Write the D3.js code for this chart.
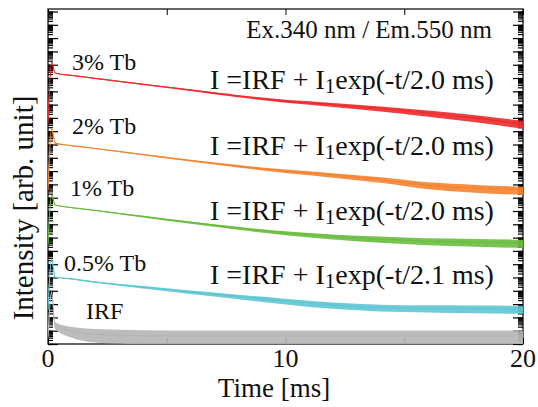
<!DOCTYPE html>
<html>
<head>
<meta charset="utf-8">
<script src="https://cdn.jsdelivr.net/npm/d3@7"></script>
<style>
  body { margin: 0; background: #fff; }
  text { font-family: "Liberation Serif", "DejaVu Serif", serif; fill: #111; }
</style>
</head>
<body>
<svg id="main_svg" width="538" height="407"></svg>
<script>
// time points [ms]
const times = [0, 0.15, 0.3, 1, 2, 4, 6, 8, 10, 12, 14, 16, 18, 20]

// log10 intensity (curves are offset for display)
const tb3 = [16.6, 21.2, 20.38, 20.2, 19.97, 19.53, 19.1, 18.65, 18.27, 18.01, 17.71, 17.37, 16.99, 16.54]
const tb2 = [11.6, 16.2, 15.11, 14.92, 14.7, 14.25, 13.8, 13.38, 13.01, 12.71, 12.37, 11.95, 11.73, 11.58]
const tb1 = [7.5, 11.2, 10.45, 10.26, 10.04, 9.59, 9.14, 8.72, 8.35, 8.08, 7.89, 7.74, 7.67, 7.59]
const tb05 = [2.6, 6.4, 5.04, 4.89, 4.66, 4.29, 3.91, 3.57, 3.23, 2.93, 2.75, 2.69, 2.66, 2.63]
const irf = [0.5, 3.9, 1.43, 0.95, 0.72, 0.62, 0.6, 0.6, 0.6, 0.6, 0.6, 0.6, 0.6, 0.6]

// half width of the noise band, in decades
const tb3Noise = [0.3, 0.03, 0.03, 0.03, 0.03, 0.04, 0.06, 0.08, 0.11, 0.15, 0.19, 0.24, 0.27, 0.3]
const tb2Noise = [0.3, 0.03, 0.03, 0.03, 0.03, 0.04, 0.06, 0.09, 0.13, 0.17, 0.21, 0.26, 0.29, 0.31]
const tb1Noise = [0.3, 0.03, 0.03, 0.03, 0.04, 0.06, 0.08, 0.11, 0.15, 0.19, 0.23, 0.26, 0.29, 0.31]
const tb05Noise = [0.3, 0.04, 0.04, 0.04, 0.06, 0.09, 0.13, 0.17, 0.21, 0.24, 0.26, 0.27, 0.29, 0.3]
const irfNoise = [0.3, 0.1, 0.25, 0.4, 0.5, 0.52, 0.52, 0.52, 0.52, 0.52, 0.52, 0.52, 0.52, 0.52]

const names = ["3% Tb", "2% Tb", "1% Tb", "0.5% Tb", "IRF"]
const fitTau = ["2.0", "2.0", "2.0", "2.1"]
const xTicks = [0, 5, 10, 15, 20]
const xLabels = [0, 10, 20]

const series = [
    {vals: tb3, noise: tb3Noise, color: "#ec2a2c"},
    {vals: tb2, noise: tb2Noise, color: "#f5832f"},
    {vals: tb1, noise: tb1Noise, color: "#6abd3f"},
    {vals: tb05, noise: tb05Noise, color: "#5ec6d3"},
    {vals: irf, noise: irfNoise, color: "#b5b5b5"}
]

const W = 538, H = 407
const m = {l: 48, r: 15, t: 9, b: 63}
const svg = d3.select("#main_svg")

const x = d3.scaleLinear().domain([0, 20]).range([m.l, W - m.r])
const y = d3.scaleLog().domain([1, Math.pow(10, 25.19)]).range([H - m.b, m.t])

svg.append("clipPath").attr("id", "plot_clip")
    .append("rect")
    .attr("x", m.l).attr("y", m.t)
    .attr("width", W - m.l - m.r).attr("height", H - m.t - m.b)

// y ticks: all log minor ticks plus longer ones at decades
const minorTicks = y.ticks(400)
const majorTicks = minorTicks.filter(v => Math.abs(Math.log10(v) - Math.round(Math.log10(v))) < 1e-6)

function yAxis(gen, tx, vals, size) {
    const g = svg.append("g")
        .attr("transform", "translate(" + tx + ",0)")
        .call(gen(y).tickValues(vals).tickSize(size).tickFormat(""))
    g.select(".domain").remove()
    g.selectAll("line").attr("stroke", "#000").attr("stroke-width", 1.2)
}
yAxis(d3.axisLeft, m.l, minorTicks, -5)
yAxis(d3.axisLeft, m.l, majorTicks, -10)
yAxis(d3.axisRight, W - m.r, minorTicks, -5)
yAxis(d3.axisRight, W - m.r, majorTicks, -10)

const xb = svg.append("g")
    .attr("transform", "translate(0," + (H - m.b) + ")")
    .call(d3.axisBottom(x).tickValues(xTicks).tickSize(-6).tickFormat(""))
xb.select(".domain").remove()
const xt = svg.append("g")
    .attr("transform", "translate(0," + m.t + ")")
    .call(d3.axisTop(x).tickValues(xTicks).tickSize(-6).tickFormat(""))
xt.select(".domain").remove()
xb.selectAll("line").attr("stroke", "#000")
xt.selectAll("line").attr("stroke", "#000")

// frame
svg.append("rect")
    .attr("x", m.l).attr("y", m.t)
    .attr("width", W - m.l - m.r).attr("height", H - m.t - m.b)
    .attr("fill", "none").attr("stroke", "#000").attr("stroke-width", 1.2)

// curves
const plot = svg.append("g").attr("clip-path", "url(#plot_clip)")
series.forEach(s => {
    const band = d3.area()
        .x((d, i) => x(times[i]))
        .y0((d, i) => y(Math.pow(10, d - s.noise[i] * 1.2)))
        .y1((d, i) => y(Math.pow(10, d + s.noise[i] * 0.8)))
        .curve(d3.curveMonotoneX)
    const line = d3.line()
        .x((d, i) => x(times[i]))
        .y(d => y(Math.pow(10, d)))
        .curve(d3.curveMonotoneX)
    plot.append("path").datum(s.vals)
        .attr("d", band)
        .attr("fill", s.color)
        .attr("opacity", 0.9)
    plot.append("path").datum(s.vals)
        .attr("d", line)
        .attr("fill", "none")
        .attr("stroke", s.color)
        .attr("stroke-width", 1.2)
})

// x tick labels
svg.selectAll(".xlab").data(xLabels).enter()
    .append("text")
    .attr("x", d => x(d))
    .attr("y", 367)
    .attr("text-anchor", "middle")
    .attr("font-size", 26)
    .text(d => d)

svg.append("text")
    .attr("x", 274).attr("y", 397)
    .attr("text-anchor", "middle")
    .attr("font-size", 27)
    .text("Time [ms]")

svg.append("text")
    .attr("transform", "translate(33,208) rotate(-90)")
    .attr("text-anchor", "middle")
    .attr("font-size", 29)
    .text("Intensity [arb. unit]")

svg.append("text")
    .attr("x", 492).attr("y", 38)
    .attr("text-anchor", "end")
    .attr("font-size", 25)
    .text("Ex.340 nm / Em.550 nm")

// curve labels
const labelPos = [[72, 70], [72, 134], [70, 196], [64, 271], [86, 319]]
names.forEach((n, i) => {
    svg.append("text")
        .attr("x", labelPos[i][0]).attr("y", labelPos[i][1])
        .attr("font-size", 24)
        .text(n)
})

// fit formulas
const fitY = [89, 155, 220, 284]
fitTau.forEach((tau, i) => {
    const t = svg.append("text")
        .attr("x", 210).attr("y", fitY[i])
        .attr("font-size", 28)
    t.append("tspan").text("I =IRF + I")
    t.append("tspan").attr("dy", 4).attr("font-size", 21).text("1")
    t.append("tspan").attr("dy", -4).text("exp(-t/" + tau + " ms)")
})
</script>
</body>
</html>
